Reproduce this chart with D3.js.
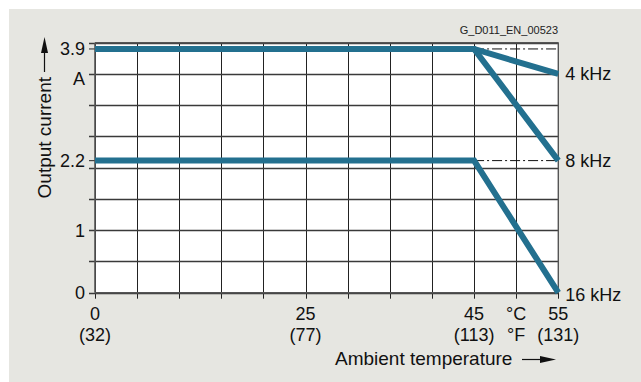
<!DOCTYPE html>
<html>
<head>
<meta charset="utf-8">
<script src="https://cdn.jsdelivr.net/npm/d3@7"></script>
<style>
  html, body { margin: 0; padding: 0; background: #ffffff; }
  svg { display: block; font-family: "Liberation Sans", Arial, sans-serif; }
</style>
</head>
<body>
<svg id="chart" width="641" height="382"></svg>
<script>
// Derating curves: output current vs. ambient temperature per pulse frequency
const temps = [0, 45, 55];                 // °C
const current4kHz = [3.9, 3.9, 3.5];      // A
const current8kHz = [3.9, 3.9, 2.2];      // A
const current16kHz = [2.2, 2.2, 0];       // A
const curveLabels = ["4 kHz", "8 kHz", "16 kHz"];

const xGrid = d3.range(0, 56, 5);
const xTickC = [0, 25, 45, 55];
const xTickF = ["(32)", "(77)", "(113)", "(131)"];
const yGrid = d3.range(0, 4.01, 0.5);
const yTickValues = [0, 1, 2.2, 3.9];
const yUnitAt = 3.5;
const refLevels = [3.9, 2.2];

const svg = d3.select("#chart");
const blue = "#23708f";
const ink = "#111";

// panel
svg.append("rect").attr("x", 9).attr("y", 9).attr("width", 632).attr("height", 373)
  .attr("fill", "#e6e6e1");

const x = d3.scaleLinear().domain([0, 55]).range([95, 558.3]);
// schematic axis: the 2.2 A level sits slightly below its proportional place
const y = d3.scaleLinear().domain([0, 2, 2.2, 2.5, 4]).range([292.7, 167.7, 160.6, 136.45, 42.7]);

// plot area
svg.append("rect").attr("x", x(0)).attr("y", y(4))
  .attr("width", x(55) - x(0)).attr("height", y(0) - y(4)).attr("fill", "#ffffff");

// grid
svg.append("g").selectAll("line").data(xGrid).join("line")
  .attr("x1", d => Math.round(x(d)) + 0.5).attr("x2", d => Math.round(x(d)) + 0.5)
  .attr("y1", y(4)).attr("y2", y(0) + 6)
  .attr("stroke", "#222").attr("stroke-width", 1);
svg.append("g").selectAll("line").data(yGrid).join("line")
  .attr("x1", x(0) - 6).attr("x2", x(55))
  .attr("y1", d => Math.round(y(d)) + 0.5).attr("y2", d => Math.round(y(d)) + 0.5)
  .attr("stroke", "#3a3a3a").attr("stroke-width", 1.3);

// extra ticks for the labelled levels
svg.append("g").selectAll("line").data(refLevels).join("line")
  .attr("x1", x(0) - 6).attr("x2", x(0))
  .attr("y1", d => y(d)).attr("y2", d => y(d))
  .attr("stroke", "#444").attr("stroke-width", 1.2);

// axes frame
svg.append("line").attr("x1", x(0)).attr("x2", x(0)).attr("y1", y(4)).attr("y2", y(0))
  .attr("stroke", "#555").attr("stroke-width", 1.6);
svg.append("line").attr("x1", x(0)).attr("x2", x(55)).attr("y1", y(0)).attr("y2", y(0))
  .attr("stroke", "#555").attr("stroke-width", 1.6);
svg.append("line").attr("x1", x(55)).attr("x2", x(55)).attr("y1", y(4)).attr("y2", y(0))
  .attr("stroke", "#555").attr("stroke-width", 1.4);
svg.append("line").attr("x1", x(0)).attr("x2", x(55)).attr("y1", y(4)).attr("y2", y(4))
  .attr("stroke", "#555").attr("stroke-width", 1.4);

// dash-dot reference lines beyond 45 °C
svg.append("g").selectAll("line").data(refLevels).join("line")
  .attr("x1", x(45)).attr("x2", x(55))
  .attr("y1", d => y(d)).attr("y2", d => y(d))
  .attr("stroke", ink).attr("stroke-width", 1)
  .attr("stroke-dasharray", "10,3,2,3");

// curves
const series = [current4kHz, current8kHz, current16kHz];
const line = d3.line().x(d => x(d[0])).y(d => y(d[1]));
svg.append("g").selectAll("path").data(series).join("path")
  .attr("d", s => line(temps.map((t, i) => [t, s[i]])))
  .attr("fill", "none").attr("stroke", blue).attr("stroke-width", 6)
  .attr("stroke-linejoin", "miter").attr("stroke-linecap", "butt");

const fs = 18;
const fsTitle = 19;
// curve labels
svg.append("g").selectAll("text").data(series).join("text")
  .attr("x", x(55) + 7)
  .attr("y", (s, i) => y(s[s.length - 1]) + (i === 2 ? 2 : 0))
  .attr("dy", "0.35em").attr("font-size", fs).attr("fill", ink)
  .text((s, i) => curveLabels[i]);

// y tick labels
svg.append("g").selectAll("text").data(yTickValues).join("text")
  .attr("x", 85).attr("y", d => y(d)).attr("dy", "0.35em")
  .attr("text-anchor", "end").attr("font-size", fs).attr("fill", ink)
  .text(d => String(d));
svg.append("text").attr("x", 85).attr("y", y(yUnitAt) + 5).attr("dy", "0.35em")
  .attr("text-anchor", "end").attr("font-size", fs).attr("fill", ink).text("A");

// x tick labels
svg.append("g").selectAll("text").data(xTickC).join("text")
  .attr("x", d => x(d)).attr("y", 320)
  .attr("text-anchor", "middle").attr("font-size", fs).attr("fill", ink)
  .text(d => String(d));
svg.append("g").selectAll("text").data(xTickC).join("text")
  .attr("x", d => x(d)).attr("y", 341)
  .attr("text-anchor", "middle").attr("font-size", fs).attr("fill", ink)
  .text((d, i) => xTickF[i]);
svg.append("text").attr("x", x(50)).attr("y", 320).attr("text-anchor", "middle")
  .attr("font-size", fs).attr("fill", ink).text("°C");
svg.append("text").attr("x", x(50)).attr("y", 341).attr("text-anchor", "middle")
  .attr("font-size", fs).attr("fill", ink).text("°F");

// axis titles with arrows
svg.append("text").attr("x", 335).attr("y", 365).attr("font-size", fsTitle).attr("fill", ink)
  .text("Ambient temperature");
svg.append("line").attr("x1", 522).attr("x2", 545).attr("y1", 359.5).attr("y2", 359.5)
  .attr("stroke", ink).attr("stroke-width", 1.2);
svg.append("path").attr("d", "M540,356 L556,359.5 L540,363 Z").attr("fill", ink);

svg.append("text").attr("transform", "translate(51,77) rotate(-90)")
  .attr("text-anchor", "end").attr("font-size", fsTitle).attr("fill", ink)
  .text("Output current");
svg.append("line").attr("x1", 44.5).attr("x2", 44.5).attr("y1", 72).attr("y2", 50)
  .attr("stroke", ink).attr("stroke-width", 1.2);
svg.append("path").attr("d", "M41,53 L44.5,37 L48,53 Z").attr("fill", ink);

// drawing number
svg.append("text").attr("x", 558).attr("y", 34).attr("text-anchor", "end")
  .attr("font-size", 11).attr("fill", "#222").text("G_D011_EN_00523");
</script>
</body>
</html>
